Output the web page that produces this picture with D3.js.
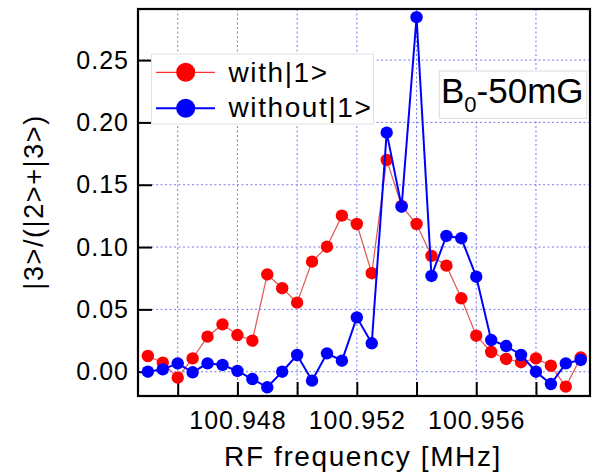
<!DOCTYPE html>
<html><head><meta charset="utf-8">
<script src="https://cdn.jsdelivr.net/npm/d3@7"></script>
<style>body{margin:0;background:#fff}svg{display:block}text{font-family:"Liberation Sans",Arial,sans-serif;fill:#000}</style>
</head><body>
<svg id="c" width="595" height="474"></svg>
<script>
const freq = [100.9450,100.9455,100.9460,100.9465,100.9470,100.9475,100.9480,100.9485,100.9490,100.9495,
              100.9500,100.9505,100.9510,100.9515,100.9520,100.9525,100.9530,100.9535,100.9540,100.9545,
              100.9550,100.9555,100.9560,100.9565,100.9570,100.9575,100.9580,100.9585,100.9590,100.9595];
const withOne = [0.0126,0.0072,-0.0048,0.0107,0.0281,0.0380,0.0294,0.0249,0.0780,0.0670,
                 0.0554,0.0883,0.1003,0.1252,0.1185,0.0790,0.1699,0.1330,0.1185,0.0929,
                 0.0851,0.0589,0.0289,0.0158,0.0102,0.0076,0.0107,0.0048,-0.0120,0.0115];
const withoutOne = [0.0000,0.0019,0.0067,-0.0005,0.0067,0.0054,0.0006,-0.0059,-0.0125,0.0000,
                    0.0134,-0.0072,0.0147,0.0088,0.0436,0.0228,0.1918,0.1324,0.2844,0.0768,
                    0.1089,0.1071,0.0762,0.0254,0.0206,0.0134,0.0000,-0.0099,0.0067,0.0094];
const xTicks = [100.946,100.948,100.950,100.952,100.954,100.956,100.958];
const xLabels = ["100.948","100.952","100.956"];
const yTicks = [0.00,0.05,0.10,0.15,0.20,0.25];
const seriesNames = ["with|1>","without|1>"];

const L=138,R=590,T=9,B=396;
const svg=d3.select("#c");
const x=d3.scaleLinear().domain([100.94467,100.95981]).range([L,R]);
const y=d3.scaleLinear().domain([-0.0195,0.291]).range([B,T]);
const gridColor="#7878ee";

// grid
svg.append("g").selectAll("line").data(xTicks).join("line")
  .attr("x1",d=>x(d)).attr("x2",d=>x(d)).attr("y1",T).attr("y2",B)
  .attr("stroke",gridColor).attr("stroke-width",1).attr("stroke-dasharray","2,2.5");
svg.append("g").selectAll("line").data(yTicks).join("line")
  .attr("x1",L).attr("x2",R).attr("y1",d=>y(d)).attr("y2",d=>y(d))
  .attr("stroke",gridColor).attr("stroke-width",1).attr("stroke-dasharray","2,2.5");

// axes
const fmtY=d3.format(".2f");
const ax=svg.append("g").attr("transform",`translate(${L},0)`)
  .call(d3.axisLeft(y).tickValues(yTicks).tickSize(-14).tickPadding(9).tickFormat(fmtY));
const bx=svg.append("g").attr("transform",`translate(0,${B})`)
  .call(d3.axisBottom(x).tickValues(xTicks).tickSize(-14).tickPadding(15.5)
    .tickFormat(d=>{const s=d3.format(".3f")(d);return xLabels.includes(s)?s:"";}));
[ax,bx].forEach(g=>{
  g.select(".domain").remove();
  g.selectAll(".tick line").attr("stroke","#000").attr("stroke-width",2);
  g.selectAll(".tick text").attr("font-size",25).attr("letter-spacing","1px")
    .attr("font-family","Liberation Sans, Arial, sans-serif").attr("fill","#000");
});

// series
const pts=(vals)=>freq.map((f,i)=>[f,vals[i]]);
const line=d3.line().x(d=>x(d[0])).y(d=>y(d[1]));
function drawSeries(vals,lineColor,lw,fill){
  const g=svg.append("g");
  g.append("path").datum(pts(vals)).attr("d",line).attr("fill","none")
    .attr("stroke",lineColor).attr("stroke-width",lw);
  g.selectAll("circle").data(pts(vals)).join("circle")
    .attr("cx",d=>x(d[0])).attr("cy",d=>y(d[1])).attr("r",6.2).attr("fill",fill);
}
drawSeries(withOne,"#e05555",1.2,"#ff0000");
drawSeries(withoutOne,"#0000ff",2,"#0000ff");

// frame
svg.append("rect").attr("x",L).attr("y",T).attr("width",R-L).attr("height",B-T)
  .attr("fill","none").attr("stroke","#000").attr("stroke-width",2.2);

// legend
const lg=svg.append("g");
lg.append("rect").attr("x",151.5).attr("y",54).attr("width",222).attr("height",70)
  .attr("fill","#fff").attr("stroke","#e2e2e2").attr("stroke-width",1);
const legItems=[{n:seriesNames[0],c:"#ff0000",lc:"#ff3030",lw:1.2,yy:72.3,by:81.7},
                {n:seriesNames[1],c:"#0000ff",lc:"#0000ff",lw:2,yy:108.3,by:117.3}];
legItems.forEach(it=>{
  lg.append("line").attr("x1",156).attr("x2",215).attr("y1",it.yy).attr("y2",it.yy)
    .attr("stroke",it.lc).attr("stroke-width",it.lw);
  lg.append("circle").attr("cx",185.7).attr("cy",it.yy).attr("r",9.5).attr("fill",it.c);
  lg.append("text").attr("x",228.5).attr("y",it.by).attr("font-size",28)
    .attr("letter-spacing","1.6px").text(it.n);
});

// B0 label
svg.append("rect").attr("x",439.3).attr("y",71).attr("width",147.4).attr("height",47.3)
  .attr("fill","#fff").attr("stroke","#dcdcdc").attr("stroke-width",1);
const bt=svg.append("text").attr("x",441).attr("y",102.7).attr("font-size",35);
bt.append("tspan").text("B");
bt.append("tspan").attr("font-size",22).attr("dy",9).text("0");
bt.append("tspan").attr("dy",-9).text("-50mG");

// axis titles
svg.append("text").attr("x",363).attr("y",466).attr("text-anchor","middle")
  .attr("font-size",28).attr("letter-spacing","1.6px").text("RF frequency [MHz]");
svg.append("text").attr("transform","translate(43,202) rotate(-90)").attr("text-anchor","middle")
  .attr("font-size",27).attr("letter-spacing","1.6px").text("|3>/(|2>+|3>)");
</script>
</body></html>
